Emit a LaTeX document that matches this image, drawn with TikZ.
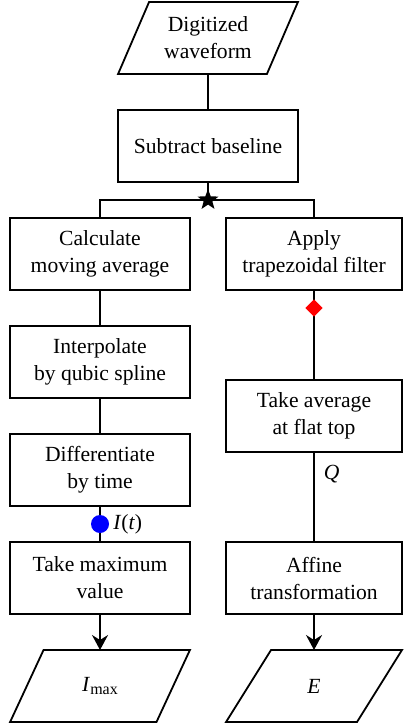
\documentclass[tikz,border=0pt]{standalone}
\usepackage{fontspec}
\setmainfont{Liberation Serif}
\usepackage{tikz}
\usetikzlibrary{arrows.meta,positioning,shapes.geometric}

\begin{document}
\begin{tikzpicture}[
box/.style={draw,line width=0.9pt,align=center,minimum height=36pt,minimum width=90pt,inner sep=2pt,outer sep=0pt,font=\fontsize{10.8}{13.5}\selectfont},
rbox/.style={box,minimum width=88pt},
io/.style={box,trapezium,trapezium left angle=63.4,trapezium right angle=116.6,trapezium stretches},
link/.style={line width=0.9pt},
arrow/.style={link,-{Stealth[length=7.5pt,width=8pt,inset=2.5pt]}},
starmark/.style={star,star points=5,star point ratio=2.4,fill=black,minimum size=11pt,inner sep=0pt},
gem/.style={diamond,fill=red,minimum size=9pt,inner sep=0pt},
dot/.style={circle,fill=blue,minimum size=9pt,inner sep=0pt},
tag/.style={font=\fontsize{10.8}{13.5}\selectfont,inner sep=1.5pt}
]
\useasboundingbox (0,0) rectangle (201.5pt,-363pt);
\node[io] (dig) at (104pt,-19pt) {Digitized\\waveform};
\node[box,below=18pt of dig] (sub) {Subtract baseline};
\coordinate[below=9pt of sub] (split);

% two branches
\node[box,below=9pt of split,xshift=-54pt] (calc) {Calculate\\moving average};
\node[box,below=18pt of calc] (interp) {Interpolate\\by qubic spline};
\node[box,below=18pt of interp] (diff) {Differentiate\\by time};
\node[box,below=18pt of diff] (tmax) {Take maximum\\value};
\node[io,below=18pt of tmax] (imax) {\textit{I}\raisebox{-0.35ex}{\fontsize{8}{8}\selectfont max}};

\node[rbox,below=9pt of split,xshift=53pt] (apply) {Apply\\trapezoidal filter};
\node[rbox,below=45pt of apply] (tavg) {Take average\\at flat top};
\node[rbox,below=45pt of tavg] (affine) {Affine\\transformation};
\node[io,minimum width=88pt,below=18pt of affine] (energy) {\textit{E}};

\draw[link] (dig) -- (sub);
\draw[link] (sub) -- (split);
\draw[link] (calc) |- (split) -| (apply);
\draw[link] (calc) -- (interp);
\draw[link] (interp) -- (diff);
\draw[link] (diff) -- node[dot] (idot) {} (tmax);
\node[tag,right=0pt of idot] (ilab) {\textit{I}(\textit{t})};
\draw[arrow] (tmax) -- (imax);
\draw[link] (apply) -- node[pos=0.2,gem] (rdia) {} (tavg);
\draw[link] (tavg) -- node[tag,pos=0.24,right=3pt] (qlab) {\textit{Q}} (affine);
\draw[arrow] (affine) -- (energy);
\node[starmark] (junc) at (split) {};
\end{tikzpicture}
\end{document}
